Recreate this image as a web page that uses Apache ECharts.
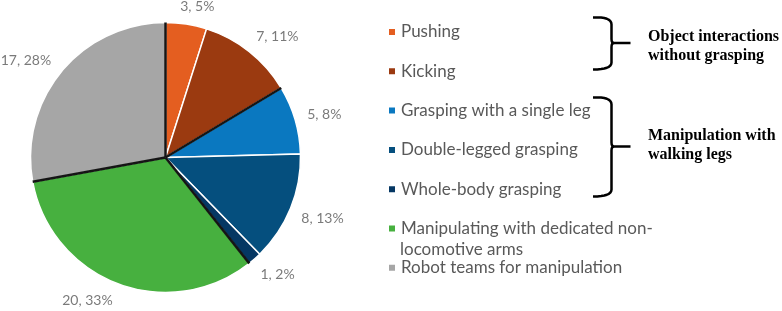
<!DOCTYPE html>
<html><head><meta charset="utf-8">
<script src="https://cdn.jsdelivr.net/npm/echarts@6/dist/echarts.min.js"></script>
<style>html,body{margin:0;padding:0;background:#fff}#c{width:782px;height:311px}</style>
</head><body><div id="c"></div>
<script>
// ---- data ----
const categories = ['Pushing', 'Kicking', 'Grasping with a single leg', 'Double-legged grasping', 'Whole-body grasping', 'Manipulating with dedicated non-\nlocomotive arms', 'Robot teams for manipulation'];
const values = [3, 7, 5, 8, 1, 20, 17];
const groupOf = ['nograsp', 'nograsp', 'legs', 'legs', 'legs', 'arms', 'teams'];
const groupTitles = ['Object interactions\nwithout grasping', 'Manipulation with\nwalking legs'];
// ---- styles / layout ----
const colors = ['#E45E20', '#9B3A10', '#0A78C0', '#054F7E', '#053763', '#47B03F', '#A6A6A6'];
const labelAngleNudge = [3, 4.5, 1, -1, -2.5, 8, -5]; // degrees, label placement tweak
const CX = 165.5, CY = 157.5, R = 135, RMAX = 1.5;
const FONT = 'Lato', FS = 14, LFS = 17, GAP = 12;

const total = values.reduce((a, b) => a + b, 0);
const cum = [];
values.reduce((acc, v, i) => { cum[i] = acc; return acc + v; }, 0);
const boundaries = [];
for (let i = 0; i < values.length; i++) {
  const prev = groupOf[(i - 1 + values.length) % values.length];
  if (prev !== groupOf[i]) boundaries.push(cum[i]);
}
const ctx = document.createElement('canvas').getContext('2d');
ctx.font = FS + 'px ' + FONT;
const labelData = values.map((v, i) => {
  const text = v + ', ' + Math.round(v / total * 100) + '%';
  const pos = cum[i] + v / 2 + labelAngleNudge[i] / 360 * total;
  const ang = pos / total * 2 * Math.PI;
  const w = ctx.measureText(text).width;
  const support = (w / 2) * Math.abs(Math.sin(ang)) + (FS * 0.3) * Math.abs(Math.cos(ang));
  return { value: [1 + (GAP + support) / R, pos], text };
});

function quad(p0, c, p1, n) {
  const pts = [];
  for (let k = 0; k <= n; k++) {
    const t = k / n, u = 1 - t;
    pts.push([u * u * p0[0] + 2 * u * t * c[0] + t * t * p1[0], u * u * p0[1] + 2 * u * t * c[1] + t * t * p1[1]]);
  }
  return pts;
}
function bracket(x0, xv, xt, top, mid, bot) {
  const upper = [].concat(quad([x0, top], [xv, top - 1], [xv, top + 7], 8), [[xv, mid - 4]], quad([xv, mid - 4], [xv, mid], [xv + 2.5, mid], 4), [[xt, mid]]);
  const lower = [].concat(quad([xv + 2.5, mid], [xv, mid], [xv, mid + 4], 4), [[xv, bot - 7]], quad([xv, bot - 7], [xv, bot], [x0, bot], 8));
  const st = { fill: null, stroke: '#000', lineWidth: 2.5, lineJoin: 'round' };
  return [
    { type: 'polyline', shape: { points: upper }, style: st, silent: true },
    { type: 'polyline', shape: { points: lower }, style: st, silent: true }
  ];
}

const LEG_LEFT = 387, LEG_TOP = 21.5, LEG_LH = 21, LEG_GAP = 18.3;
const wrapIdx = categories.findIndex(c => c.includes('\n'));

const chart = echarts.init(document.getElementById('c'), null, { renderer: 'canvas' });
const lineSeries = boundaries.map(b => ({
  type: 'line', coordinateSystem: 'polar', data: [[0, b], [1, b]], symbol: 'none',
  lineStyle: { color: '#151515', width: 2.5 }, silent: true, z: 5, animation: false
}));
chart.setOption({
  animation: false,
  polar: { center: [CX, CY], radius: R * RMAX },
  angleAxis: { type: 'value', min: 0, max: total, startAngle: 90, clockwise: true, show: false },
  radiusAxis: { type: 'value', min: 0, max: RMAX, show: false },
  legend: {
    orient: 'vertical', left: LEG_LEFT, top: LEG_TOP, padding: 0, itemWidth: 8, itemHeight: 8, itemGap: LEG_GAP,
    icon: 'rect', selectedMode: false, data: categories,
    formatter: name => name.split('\n')[0],
    textStyle: { color: '#595959', fontSize: LFS, fontFamily: FONT, lineHeight: LEG_LH }
  },
  graphic: [
    ...bracket(593, 611.5, 630.5, 17.5, 43, 69.5),
    ...bracket(593, 611.5, 630.5, 97.5, 146.5, 196.5),
    { type: 'text', x: 648, y: 27, style: { text: groupTitles[0], font: 'bold 16px "Liberation Serif"', fill: '#000', lineHeight: 19, verticalAlign: 'top' } },
    { type: 'text', x: 648, y: 126, style: { text: groupTitles[1], font: 'bold 16px "Liberation Serif"', fill: '#000', lineHeight: 19, verticalAlign: 'top' } },
    { type: 'text', x: LEG_LEFT + 13, y: LEG_TOP + wrapIdx * (LEG_LH + LEG_GAP) + LEG_LH,
      style: { text: categories[wrapIdx].split('\n').slice(1).join('\n'), font: LFS + 'px ' + FONT, fill: '#595959', lineHeight: LEG_LH, verticalAlign: 'top' } }
  ],
  series: [
    {
      type: 'pie', center: [CX, CY], radius: R, startAngle: 90, clockwise: true,
      data: categories.map((c, i) => ({ name: c, value: values[i], itemStyle: { color: colors[i] } })),
      itemStyle: { borderColor: '#fff', borderWidth: 1.5 },
      label: { show: false }, labelLine: { show: false }, emphasis: { disabled: true }, silent: true
    },
    ...lineSeries,
    {
      type: 'scatter', coordinateSystem: 'polar', symbolSize: 1, data: labelData, silent: true,
      itemStyle: { color: 'rgba(0,0,0,0)' }, clip: false,
      label: { show: true, position: 'inside', color: '#595959', fontSize: FS, fontFamily: FONT, formatter: p => p.data.text }
    }
  ]
});
</script></body></html>
